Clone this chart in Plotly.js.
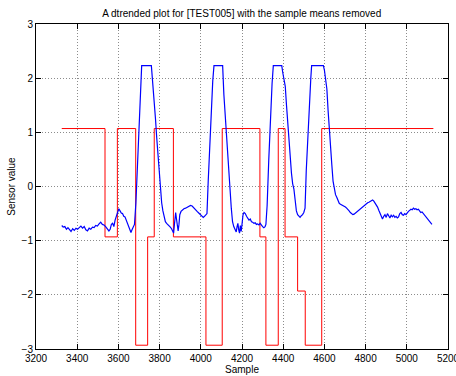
<!DOCTYPE html>
<html><head><meta charset="utf-8">
<script src="https://cdn.plot.ly/plotly-3.0.1.min.js"></script>
<style>html,body{margin:0;padding:0;background:#fff}#chart{width:456px;height:376px}</style>
</head><body><div id="chart"></div>
<script>
const blueX = [3325,3332,3340,3348,3355,3362,3370,3378,3386,3394,3402,3410,3418,3426,3434,3442,3450,3458,3466,3474,3482,3490,3498,3506,3514,3522,3530,3538,3546,3554,3560,3566,3572,3578,3584,3590,3596,3602,3608,3614,3620,3626,3632,3638,3644,3650,3656,3661,3666,3672,3678,3685,3692,3700,3706,3713,3760,3764,3770,3776,3780,3786,3792,3798,3804,3810,3816,3822,3828,3834,3840,3846,3852,3858,3864,3868,3872,3878,3882,3886,3890,3894,3898,3904,3910,3918,3926,3934,3942,3950,3958,3966,3974,3982,3990,3998,4006,4012,4018,4024,4030,4036,4044,4052,4058,4064,4106,4112,4120,4128,4136,4142,4148,4154,4160,4166,4172,4176,4180,4184,4188,4192,4196,4200,4205,4210,4216,4222,4228,4234,4240,4246,4252,4258,4264,4270,4276,4282,4288,4294,4300,4306,4312,4316,4322,4330,4338,4346,4352,4393,4398,4404,4410,4416,4422,4428,4434,4440,4446,4452,4458,4464,4470,4476,4482,4488,4494,4500,4506,4512,4520,4528,4534,4538,4595,4600,4606,4612,4618,4624,4630,4636,4642,4648,4654,4660,4666,4672,4678,4684,4690,4696,4702,4708,4714,4720,4726,4732,4738,4744,4750,4756,4762,4768,4774,4780,4786,4792,4798,4804,4810,4816,4822,4828,4834,4840,4846,4852,4858,4864,4870,4876,4882,4888,4894,4900,4906,4912,4918,4924,4930,4936,4942,4948,4954,4960,4966,4972,4978,4984,4990,4996,5002,5008,5014,5020,5026,5032,5038,5044,5050,5056,5062,5068,5074,5080,5086,5092,5098,5104,5110,5116,5122];
const blueY = [-0.72,-0.75,-0.74,-0.79,-0.76,-0.80,-0.83,-0.78,-0.81,-0.77,-0.79,-0.76,-0.73,-0.77,-0.74,-0.80,-0.82,-0.77,-0.79,-0.75,-0.76,-0.72,-0.73,-0.69,-0.66,-0.70,-0.71,-0.74,-0.78,-0.82,-0.79,-0.70,-0.68,-0.74,-0.62,-0.55,-0.44,-0.41,-0.45,-0.49,-0.50,-0.55,-0.56,-0.62,-0.66,-0.72,-0.80,-0.85,-0.80,-0.76,-0.70,-0.30,0.40,1.10,1.70,2.23,2.23,2.05,1.75,1.55,1.25,0.90,0.55,0.20,-0.05,-0.30,-0.45,-0.58,-0.65,-0.68,-0.70,-0.72,-0.75,-0.78,-0.84,-0.86,-0.70,-0.48,-0.60,-0.78,-0.82,-0.70,-0.52,-0.46,-0.43,-0.41,-0.40,-0.38,-0.37,-0.35,-0.36,-0.40,-0.42,-0.46,-0.49,-0.52,-0.56,-0.57,-0.55,-0.53,-0.50,0.10,0.80,1.50,1.95,2.23,2.23,1.70,1.20,0.60,0.15,-0.05,-0.40,-0.65,-0.74,-0.78,-0.84,-0.74,-0.68,-0.80,-0.86,-0.72,-0.83,-0.70,-0.52,-0.48,-0.50,-0.55,-0.60,-0.62,-0.60,-0.65,-0.66,-0.68,-0.67,-0.70,-0.69,-0.71,-0.68,-0.72,-0.74,-0.76,-0.74,-0.70,-0.35,0.50,1.30,1.90,2.23,2.23,2.10,2.00,1.85,1.50,1.15,0.80,0.50,0.25,0.05,-0.05,-0.25,-0.45,-0.52,-0.55,-0.57,-0.54,-0.52,-0.48,-0.40,0.30,1.00,1.60,2.00,2.23,2.23,2.15,2.00,1.80,1.40,1.00,0.70,0.40,0.10,-0.05,-0.15,-0.20,-0.28,-0.31,-0.33,-0.34,-0.36,-0.37,-0.38,-0.40,-0.42,-0.45,-0.48,-0.50,-0.52,-0.51,-0.49,-0.47,-0.46,-0.44,-0.42,-0.40,-0.38,-0.36,-0.33,-0.31,-0.30,-0.29,-0.28,-0.26,-0.25,-0.27,-0.30,-0.33,-0.38,-0.44,-0.50,-0.57,-0.60,-0.55,-0.52,-0.57,-0.50,-0.54,-0.58,-0.53,-0.56,-0.53,-0.57,-0.55,-0.58,-0.56,-0.50,-0.48,-0.52,-0.53,-0.50,-0.52,-0.48,-0.46,-0.44,-0.42,-0.43,-0.40,-0.42,-0.41,-0.43,-0.42,-0.45,-0.48,-0.47,-0.50,-0.53,-0.57,-0.60,-0.62,-0.65,-0.67,-0.70];
const redX = [3325,3535,3595,3684,3742,3774,3867,4025,4104,4287,4316,4376,4409,4470,4507,4587,5129];
const redY = [1.07,-0.93,1.07,-2.93,-0.93,1.07,-0.93,-2.93,1.07,-0.93,-2.93,1.07,-0.93,-1.93,-2.93,1.07,1.07];
const xTicks = [3200,3400,3600,3800,4000,4200,4400,4600,4800,5000,5200];
const yTicks = [-3,-2,-1,0,1,2,3];

const font = {family:'Liberation Sans, Arial, sans-serif', size:10, color:'#000'};
const axisCommon = {
  showline:true, linecolor:'#000', linewidth:1, mirror:'ticks',
  ticks:'inside', ticklen:5, tickcolor:'#000',
  showgrid:true, gridcolor:'#8c8c8c', griddash:'1px,2px', gridwidth:1,
  zeroline:false, tickfont:font, ticklabeloverflow:'allow'
};
Plotly.newPlot('chart', [
  {x: redX, y: redY, mode:'lines', line:{color:'#ff0000', width:1, shape:'hv'}, hoverinfo:'skip'},
  {x: blueX, y: blueY, mode:'lines', line:{color:'#0000ff', width:1.2}, hoverinfo:'skip'}
], {
  width:456, height:376,
  margin:{l:36, r:8, t:24, b:27},
  paper_bgcolor:'#fff', plot_bgcolor:'#fff',
  showlegend:false,
  font: font,
  title:{text:'A dtrended plot for [TEST005] with the sample means removed', font:{family:font.family, size:10, color:'#000'}, x:0.53, xanchor:'center', y:0.965, yanchor:'middle'},
  xaxis: Object.assign({}, axisCommon, {range:[3200,5200], tickvals:xTicks, ticktext:xTicks.map(String),
    title:{text:'Sample', font:font, standoff:2}}),
  yaxis: Object.assign({}, axisCommon, {range:[-3,3], tickvals:yTicks,
    ticktext:yTicks.map(v => v < 0 ? '\u2212' + Math.abs(v) : String(v)),
    title:{text:'Sensor value', font:font, standoff:4}})
}, {displayModeBar:false, staticPlot:true});
</script></body></html>
